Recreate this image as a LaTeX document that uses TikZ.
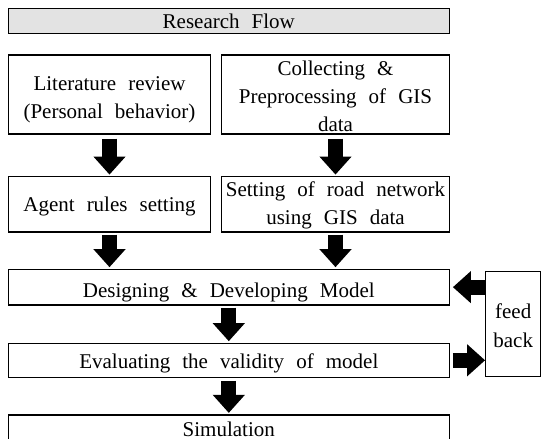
\documentclass[tikz,border=0pt]{standalone}
\usepackage{fontspec}
\setmainfont{Liberation Serif}[WordSpace=2.3]
\usetikzlibrary{arrows.meta}
\tikzset{
  box/.style={draw=black, line width=1.2pt, inner sep=0pt, rectangle},
  txt/.style={anchor=base, inner sep=0pt, align=center, font=\fontsize{21}{27.8}\selectfont},
  barrow/.style={line width=15pt, -{Triangle[length=18pt,width=31pt]}, black}
}
\begin{document}
\begin{tikzpicture}[x=1pt,y=-1pt]
\useasboundingbox (0,0) rectangle (542,439);
\clip (0,0) rectangle (542,439);
% boxes
\node[box, fill=gray!22, minimum width=441pt, minimum height=25pt] (title) at (228.8,20.8) {};
\node[box, minimum width=202.4pt, minimum height=79pt] (lit) at (109.5,94.5) {};
\node[box, minimum width=227.6pt, minimum height=79pt] (col) at (335.5,94.5) {};
\node[box, minimum width=202.4pt, minimum height=55.3pt] (agent) at (109.5,204.35) {};
\node[box, minimum width=227.6pt, minimum height=55.3pt] (road) at (335.5,204.35) {};
\node[box, minimum width=441pt, minimum height=35.7pt] (design) at (228.8,287.15) {};
\node[box, minimum width=441pt, minimum height=34pt] (eval) at (228.8,360.3) {};
\node[box, minimum width=441pt, minimum height=36pt] (sim) at (228.8,433) {};
\node[box, minimum width=55pt, minimum height=105pt] (fb) at (513.2,324.2) {};
% texts (base = last line's baseline)
\node[txt] (titleT) at (228.8,28.7) {Research Flow};
\node[txt] (litT) at (109.5,118) {Literature review\\(Personal behavior)};
\node[txt] (colT) at (335.5,131) {Collecting \&\\Preprocessing of GIS\\data};
\node[txt] (agentT) at (109.5,211.5) {Agent rules setting};
\node[txt] (roadT) at (335.5,224.5) {Setting of road network\\using GIS data};
\node[txt] (designT) at (228.8,297) {Designing \& Developing Model};
\node[txt] (evalT) at (228.8,368.5) {Evaluating the validity of model};
\node[txt] (simT) at (228.8,436.3) {Simulation};
\node[txt, font=\fontsize{21}{29}\selectfont] (fbT) at (513.2,347) {feed\\back};
% arrows
\draw[barrow] ([yshift=-4pt]lit.south) -- ([yshift=1.5pt]agent.north);
\draw[barrow] ([yshift=-4pt]col.south) -- ([yshift=1.5pt]road.north);
\draw[barrow] ([yshift=-2pt]agent.south) -- ([yshift=1.5pt]agent.south |- design.north);
\draw[barrow] ([yshift=-2pt]road.south) -- ([yshift=1.5pt]road.south |- design.north);
\draw[barrow] ([yshift=-2pt]design.south) -- ([yshift=1.5pt]eval.north);
\draw[barrow] ([yshift=-3pt]eval.south) -- ([yshift=1.5pt]sim.north);
\draw[barrow] (fb.west |- design.east) -- ([xshift=3pt]design.east);
\draw[barrow] ([xshift=3pt]eval.east) -- (fb.west |- eval.east);
\end{tikzpicture}
\end{document}
